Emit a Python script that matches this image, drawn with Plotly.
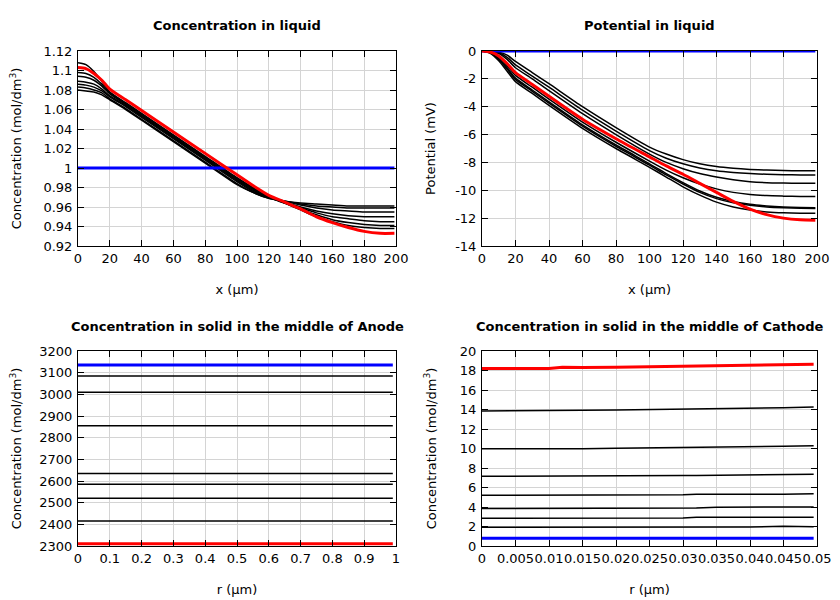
import plotly.graph_objects as go

# ---------------- Data ----------------
# Concentration in liquid (mol/dm3) vs x (um)
x_liq = [0, 5, 10, 15, 20, 30, 40, 60, 80, 100, 110, 120, 130, 140, 150, 160, 170, 180, 190, 199]
conc_initial = [1.0, 1.0, 1.0, 1.0, 1.0, 1.0, 1.0, 1.0, 1.0, 1.0, 1.0, 1.0, 1.0, 1.0, 1.0, 1.0, 1.0, 1.0, 1.0, 1.0]
conc_final = [1.103, 1.102, 1.097, 1.090, 1.081, 1.070, 1.059, 1.037, 1.015, 0.993, 0.982, 0.972, 0.965, 0.958, 0.950, 0.944, 0.939, 0.935, 0.933, 0.933]
conc_mid = [
    [1.108, 1.106, 1.099, 1.089, 1.078, 1.067, 1.056, 1.034, 1.012, 0.990, 0.980, 0.971, 0.964, 0.957, 0.950, 0.945, 0.941, 0.939, 0.938, 0.938],
    [1.098, 1.097, 1.093, 1.086, 1.077, 1.066, 1.055, 1.033, 1.011, 0.989, 0.979, 0.971, 0.964, 0.958, 0.952, 0.947, 0.944, 0.942, 0.941, 0.941],
    [1.094, 1.093, 1.090, 1.084, 1.076, 1.065, 1.054, 1.032, 1.010, 0.988, 0.978, 0.970, 0.964, 0.959, 0.954, 0.950, 0.948, 0.946, 0.945, 0.945],
    [1.089, 1.088, 1.086, 1.081, 1.074, 1.064, 1.053, 1.031, 1.009, 0.987, 0.977, 0.970, 0.965, 0.960, 0.956, 0.953, 0.951, 0.950, 0.950, 0.950],
    [1.086, 1.085, 1.083, 1.079, 1.073, 1.063, 1.052, 1.030, 1.008, 0.986, 0.976, 0.970, 0.966, 0.962, 0.959, 0.957, 0.956, 0.955, 0.955, 0.955],
    [1.083, 1.082, 1.080, 1.077, 1.071, 1.061, 1.050, 1.028, 1.006, 0.984, 0.975, 0.969, 0.966, 0.963, 0.961, 0.960, 0.959, 0.959, 0.959, 0.959],
    [1.080, 1.079, 1.078, 1.075, 1.070, 1.060, 1.049, 1.027, 1.005, 0.983, 0.975, 0.969, 0.966, 0.964, 0.963, 0.962, 0.961, 0.961, 0.961, 0.961],
]

# Potential in liquid (mV) vs x (um)
pot_initial = [0, 0, 0, 0, 0, 0, 0, 0, 0, 0, 0, 0, 0, 0, 0, 0, 0, 0, 0, 0]
pot_final = [0, -0.08, -0.35, -0.9, -1.55, -2.4, -3.25, -4.9, -6.3, -7.6, -8.25, -8.85, -9.5, -10.15, -10.8, -11.35, -11.75, -12.0, -12.12, -12.15]
pot_mid = [
    [0, -0.01, -0.08, -0.3, -0.75, -1.55, -2.35, -4.0, -5.5, -6.9, -7.4, -7.8, -8.1, -8.3, -8.42, -8.5, -8.55, -8.58, -8.6, -8.6],
    [0, -0.02, -0.12, -0.45, -1.0, -1.8, -2.6, -4.25, -5.75, -7.15, -7.7, -8.1, -8.4, -8.6, -8.72, -8.8, -8.85, -8.88, -8.9, -8.9],
    [0, -0.03, -0.18, -0.6, -1.2, -2.0, -2.85, -4.5, -6.0, -7.4, -8.0, -8.45, -8.8, -9.05, -9.25, -9.38, -9.45, -9.48, -9.5, -9.5],
    [0, -0.1, -0.45, -1.05, -1.75, -2.6, -3.45, -5.1, -6.55, -7.9, -8.55, -9.1, -9.55, -9.9, -10.15, -10.3, -10.38, -10.42, -10.45, -10.45],
    [0, -0.12, -0.55, -1.2, -1.95, -2.8, -3.65, -5.3, -6.75, -8.1, -8.8, -9.45, -10.05, -10.5, -10.8, -11.0, -11.12, -11.2, -11.24, -11.25],
    [0, -0.14, -0.6, -1.3, -2.05, -2.9, -3.75, -5.4, -6.85, -8.2, -8.9, -9.55, -10.15, -10.6, -10.9, -11.08, -11.2, -11.26, -11.29, -11.3],
    [0, -0.16, -0.7, -1.45, -2.2, -3.05, -3.9, -5.55, -7.0, -8.35, -9.05, -9.75, -10.35, -10.85, -11.2, -11.42, -11.55, -11.62, -11.65, -11.65],
]

# Concentration in solid, middle of anode (mol/dm3) vs r (um)
r_anode = [0.0, 0.99]
anode_initial = [3135, 3135]
anode_final = [2310, 2310]
anode_mid = [
    [3085, 3085],
    [3010, 3010],
    [2855, 2855],
    [2635, 2635],
    [2585, 2585],
    [2520, 2520],
    [2415, 2415],
]

# Concentration in solid, middle of cathode (mol/dm3) vs r (um)
r_cathode = [0, 0.005, 0.01, 0.012, 0.015, 0.02, 0.025, 0.03, 0.032, 0.035, 0.04, 0.045, 0.0495]
cathode_initial = [0.8, 0.8, 0.8, 0.8, 0.8, 0.8, 0.8, 0.8, 0.8, 0.8, 0.8, 0.8, 0.8]
cathode_final = [18.2, 18.2, 18.2, 18.33, 18.3, 18.33, 18.38, 18.42, 18.44, 18.47, 18.53, 18.6, 18.65]
cathode_mid = [
    [13.85, 13.85, 13.86, 13.9, 13.92, 13.95, 13.98, 14.02, 14.04, 14.07, 14.12, 14.18, 14.25],
    [9.97, 9.95, 9.95, 9.97, 9.98, 10.02, 10.05, 10.08, 10.1, 10.12, 10.17, 10.23, 10.28],
    [7.15, 7.15, 7.15, 7.16, 7.17, 7.18, 7.2, 7.22, 7.23, 7.25, 7.28, 7.32, 7.35],
    [5.2, 5.2, 5.2, 5.2, 5.2, 5.2, 5.22, 5.25, 5.3, 5.28, 5.3, 5.32, 5.35],
    [3.85, 3.85, 3.85, 3.85, 3.85, 3.85, 3.85, 3.86, 3.9, 3.98, 3.98, 3.99, 4.0],
    [2.85, 2.85, 2.85, 2.85, 2.85, 2.85, 2.85, 2.86, 2.94, 2.95, 2.95, 2.95, 2.96],
    [1.92, 1.92, 1.92, 1.92, 1.92, 1.92, 1.92, 1.92, 1.93, 1.94, 1.95, 2.02, 1.97],
]

# Tick labels
liq_conc_ticks = [0.92, 0.94, 0.96, 0.98, 1.0, 1.02, 1.04, 1.06, 1.08, 1.1, 1.12]
liq_conc_ticktext = ["0.92", "0.94", "0.96", "0.98", "1", "1.02", "1.04", "1.06", "1.08", "1.1", "1.12"]
x_ticks = [0, 20, 40, 60, 80, 100, 120, 140, 160, 180, 200]
pot_ticks = [-14, -12, -10, -8, -6, -4, -2, 0]
anode_y_ticks = [2300, 2400, 2500, 2600, 2700, 2800, 2900, 3000, 3100, 3200]
anode_r_ticks = [0, 0.1, 0.2, 0.3, 0.4, 0.5, 0.6, 0.7, 0.8, 0.9, 1]
anode_r_ticktext = ["0", "0.1", "0.2", "0.3", "0.4", "0.5", "0.6", "0.7", "0.8", "0.9", "1"]
cathode_y_ticks = [0, 2, 4, 6, 8, 10, 12, 14, 16, 18, 20]
cathode_r_ticks = [0, 0.005, 0.01, 0.015, 0.02, 0.025, 0.03, 0.035, 0.04, 0.045, 0.05]
cathode_r_ticktext = ["0", "0.005", "0.01", "0.015", "0.02", "0.025", "0.03", "0.035", "0.04", "0.045", "0.05"]

# ---------------- Figure ----------------
FONT = "DejaVu Sans"
fig = go.Figure()

BLACK_W = 1.5
BOLD_W = 3


def add_group(xs, mids, initial, final, xa, ya, shape="linear"):
    for m in mids:
        fig.add_trace(go.Scatter(x=xs, y=m, mode="lines", xaxis=xa, yaxis=ya,
                                 line=dict(color="black", width=BLACK_W, shape=shape, smoothing=0.6),
                                 showlegend=False, hoverinfo="skip"))
    fig.add_trace(go.Scatter(x=xs, y=initial, mode="lines", xaxis=xa, yaxis=ya,
                             line=dict(color="#0000ff", width=BOLD_W, shape=shape, smoothing=0.6),
                             showlegend=False, hoverinfo="skip"))
    fig.add_trace(go.Scatter(x=xs, y=final, mode="lines", xaxis=xa, yaxis=ya,
                             line=dict(color="#ff0000", width=BOLD_W, shape=shape, smoothing=0.6),
                             showlegend=False, hoverinfo="skip"))


add_group(x_liq, conc_mid, conc_initial, conc_final, "x", "y", "spline")
add_group(x_liq, pot_mid, pot_initial, pot_final, "x2", "y2", "spline")
add_group(r_anode, anode_mid, anode_initial, anode_final, "x3", "y3")
add_group(r_cathode, cathode_mid, cathode_initial, cathode_final, "x4", "y4")

# The page body adds an 8px offset, so the figure is 832x592 and positions are shifted by 8.
OFF = 8
W, H = 840 - OFF, 600 - OFF
LEFT_DOM = [(78 - OFF) / W, (396 - OFF) / W]
RIGHT_DOM = [(482 - OFF) / W, (817 - OFF) / W]
TOP_DOM = [1 - (246 - OFF) / H, 1 - (51 - OFF) / H]
BOT_DOM = [1 - (546 - OFF) / H, 1 - (351 - OFF) / H]

base = dict(showline=True, linecolor="black", linewidth=1, mirror="allticks",
            ticks="inside", ticklen=6, tickcolor="black", tickwidth=1,
            showgrid=True, gridcolor="#d4d4d4", gridwidth=1, zeroline=False,
            tickfont=dict(family=FONT, size=13, color="black"), tickangle=0,
            fixedrange=True, automargin=False)


def xax(dom, anchor, rng, tv, tt, title):
    d = dict(base)
    d.update(domain=dom, anchor=anchor, range=rng, tickmode="array", tickvals=tv, ticktext=tt,
             title=dict(text=title, font=dict(family=FONT, size=13, color="black"), standoff=20))
    return d


def yax(dom, anchor, rng, tv, tt, title, standoff):
    d = dict(base)
    d.update(domain=dom, anchor=anchor, range=rng, tickmode="array", tickvals=tv, ticktext=tt,
             ticklabelstandoff=2,
             title=dict(text=title, font=dict(family=FONT, size=13, color="black"), standoff=standoff))
    return d


conc_title = "Concentration (mol/dm<sup>3</sup>)"
fig.update_layout(
    width=W, height=H, autosize=False,
    margin=dict(l=0, r=0, t=0, b=0, pad=0),
    paper_bgcolor="white", plot_bgcolor="white",
    font=dict(family=FONT, size=13, color="black"),
    xaxis=xax(LEFT_DOM, "y", [0, 200], x_ticks, [str(v) for v in x_ticks], "x (µm)"),
    yaxis=yax(TOP_DOM, "x", [0.92, 1.12], liq_conc_ticks, liq_conc_ticktext, conc_title, 23),
    xaxis2=xax(RIGHT_DOM, "y2", [0, 200], x_ticks, [str(v) for v in x_ticks], "x (µm)"),
    yaxis2=yax(TOP_DOM, "x2", [-14, 0], pot_ticks, [str(v) for v in pot_ticks], "Potential (mV)", 16),
    xaxis3=xax(LEFT_DOM, "y3", [0, 1], anode_r_ticks, anode_r_ticktext, "r (µm)"),
    yaxis3=yax(BOT_DOM, "x3", [2300, 3200], anode_y_ticks, [str(v) for v in anode_y_ticks], conc_title, 23),
    xaxis4=xax(RIGHT_DOM, "y4", [0, 0.05], cathode_r_ticks, cathode_r_ticktext, "r (µm)"),
    yaxis4=yax(BOT_DOM, "x4", [0, 20], cathode_y_ticks, [str(v) for v in cathode_y_ticks], conc_title, 20),
)

titles = [
    ("Concentration in liquid", (LEFT_DOM[0] + LEFT_DOM[1]) / 2, 1 - (26 - OFF) / H),
    ("Potential in liquid", (RIGHT_DOM[0] + RIGHT_DOM[1]) / 2, 1 - (26 - OFF) / H),
    ("Concentration in solid in the middle of Anode", (LEFT_DOM[0] + LEFT_DOM[1]) / 2, 1 - (326 - OFF) / H),
    ("Concentration in solid in the middle of Cathode", (RIGHT_DOM[0] + RIGHT_DOM[1]) / 2, 1 - (326 - OFF) / H),
]
for txt, xc, yc in titles:
    fig.add_annotation(text="<b>%s</b>" % txt, x=xc, y=yc, xref="paper", yref="paper",
                       xanchor="center", yanchor="middle", showarrow=False,
                       font=dict(family=FONT, size=13, color="black"))

fig.write_html("out.html")
